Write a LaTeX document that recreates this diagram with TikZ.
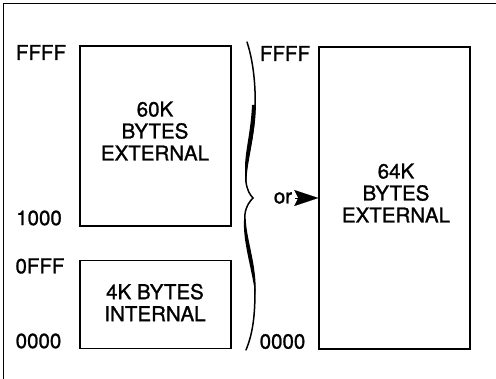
\documentclass[tikz,border=0pt]{standalone}
\usepackage{fontspec}
\setmainfont[FakeBold=1.2]{TeX Gyre Heros}
\usetikzlibrary{arrows.meta}
\begin{document}
\begin{tikzpicture}[x=1pt,y=-1pt,
  membox/.style={draw, line width=1.4pt, inner sep=0pt},
  boxtext/.style={align=center, inner sep=0pt, font=\fontsize{20.5}{22}\selectfont},
  addr/.style={inner sep=0pt, font=\fontsize{20.5}{22}\selectfont},
  bracepen/.style={line width=1.5pt, line cap=round},
  orarrow/.style={-{Stealth[length=24pt,width=16pt,inset=4pt]}, line width=0.1pt}
]
\useasboundingbox (0,0) rectangle (496,379);
% outer frame (top and left edges visible)
\draw[line width=0.9pt] (3,379) -- (3,3) -- (496,3);
% memory blocks
\node[membox, minimum width=151pt, minimum height=180pt] (ext60) at (155.5,136) {};
\node[membox, minimum width=151pt, minimum height=87.5pt] (int4) at (155.5,304.5) {};
\node[membox, minimum width=151pt, minimum height=302pt] (ext64) at (394.5,198) {};
% block texts
\node[boxtext] (t60) at (155,131) {60K\\BYTES\\EXTERNAL};
\node[boxtext] (t4) at (155,302.5) {4K BYTES\\INTERNAL};
\node[boxtext] (t64) at (396,193) {64K\\BYTES\\EXTERNAL};
% addresses
\node[addr] (aF1) at (41,52.5) {FFFF};
\node[addr] (a1000) at (39,218) {1000};
\node[addr] (a0FFF) at (40,266) {0FFF};
\node[addr] (a0000) at (38.5,341) {0000};
\node[addr] (bF) at (285,53.5) {FFFF};
\node[addr] (b0) at (282.5,341.5) {0000};
% brace
\draw[bracepen] (247,42) .. controls (253,60) and (256,85) .. (255,110)
  .. controls (254,140) and (244,165) .. (246,182)
  .. controls (247,190) and (250,195) .. (253,198)
  .. controls (250,201) and (246,206) .. (245,214)
  .. controls (244,235) and (255,260) .. (255,290)
  .. controls (255,320) and (252,335) .. (246,350);
\fill (255.5,105) .. controls (255,140) and (246.5,162) .. (246.5,182)
  .. controls (241.5,160) and (250.5,140) .. (252,105) -- cycle;
\fill (244.5,214) .. controls (245,238) and (255.5,262) .. (255.5,295)
  .. controls (250.5,262) and (241.5,238) .. (244.5,214) -- cycle;
% or arrow
\node[addr] (or) at (283,198) {or};
\coordinate (arrstart) at (295,198);
\draw[orarrow] (arrstart) -- (ext64.west);
\end{tikzpicture}
\end{document}
